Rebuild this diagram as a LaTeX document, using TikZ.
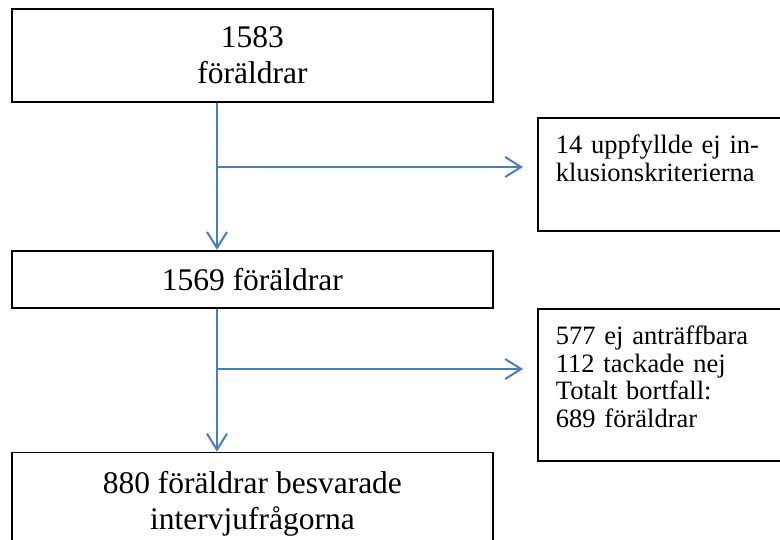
\documentclass[tikz,border=0pt]{standalone}
\usepackage{fontspec}
\setmainfont{Liberation Serif}
\usepackage{tikz}
\usetikzlibrary{arrows.meta, positioning}
\definecolor{flowblue}{RGB}{74,126,187}

\begin{document}
\begin{tikzpicture}[
    x=1pt, y=-1pt,
    mainbox/.style={rectangle, draw, line width=1.8pt, minimum width=481pt,
                    align=center, inner sep=0pt, font=\fontsize{31.5}{36}\selectfont},
    sidebox/.style={rectangle, draw, line width=1.8pt, text width=240pt,
                    align=left, inner sep=18pt, text height=18pt,
                    font=\fontsize{26.5}{27.5}\selectfont},
    arrow/.style={-{Straight Barb[length=16pt,width=20pt]}, line width=2pt, draw=flowblue},
    node distance=147pt
]
\useasboundingbox (0,0) rectangle (780,539);

% Boxes
\node[mainbox, minimum height=93pt, anchor=north west] (P1) at (11,8) {1583\\föräldrar};
\node[mainbox, minimum height=57pt, below=147pt of P1.south west, anchor=north west] (P2) {1569 föräldrar};
\node[mainbox, minimum height=102pt, below=143pt of P2.south west, anchor=north west] (P3) {880 föräldrar besvarade\\intervjufrågorna};

% Dropouts
\node[sidebox, text depth=59pt, anchor=north west] (E1) at (537,117) {14 uppfyllde ej in-\\klusionskriterierna};
\node[sidebox, text depth=98pt, anchor=north west] (E2) at (537,308) {577 ej anträffbara\\112 tackade nej\\Totalt bortfall:\\689 föräldrar};

% Flow
\coordinate (j1) at (217,167);
\coordinate (j2) at (217,369);
\draw[arrow] (P1.south -| j1) -- (P2.north -| j1);
\draw[arrow, shorten >=14pt] (j1) -- (j1 -| E1.west);
\draw[arrow] (P2.south -| j2) -- (P3.north -| j2);
\draw[arrow, shorten >=14pt] (j2) -- (j2 -| E2.west);
\end{tikzpicture}
\end{document}
